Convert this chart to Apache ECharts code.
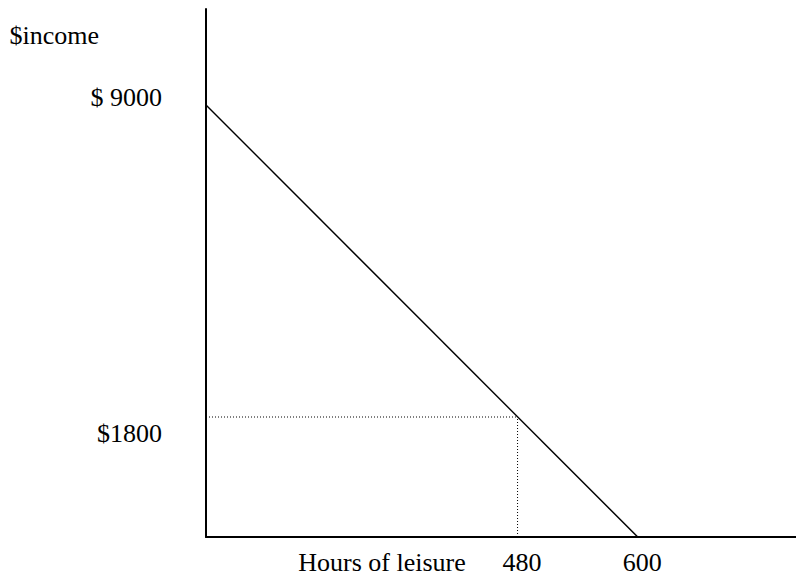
<!DOCTYPE html>
<html>
<head>
<meta charset="utf-8">
<script src="https://cdn.jsdelivr.net/npm/echarts@6/dist/echarts.min.js"></script>
<style>
  html, body { margin: 0; padding: 0; background: #fff; }
  #chart { width: 796px; height: 575px; }
</style>
</head>
<body>
<div id="chart"></div>
<script>
// Budget line: income vs hours of leisure (schematic, not to scale)
const budgetLine = [[0, 9000], [600, 0]];
// Chosen point as drawn on the schematic (labelled 480 hours, $1800)
const chosenPoint = [433, 2500];
// Tick labels and where they sit on the drawing
const xTickValues = [433, 600];
const xTickLabels = ['480', '600'];
const yTickValues = [2500, 9000];
const yTickLabels = ['$1800', '$ 9000'];
const xAxisName = 'Hours of leisure';
const yAxisName = '$income';

const FONT = "'Liberation Serif', 'Times New Roman', serif";

const chart = echarts.init(document.getElementById('chart'), null, { renderer: 'svg' });

const option = {
  animation: false,
  backgroundColor: '#ffffff',
  grid: { left: 206, right: 0, top: 9, bottom: 38, containLabel: false, outerBoundsMode: 'none' },
  xAxis: {
    type: 'value',
    min: 0,
    max: 820,
    name: xAxisName,
    nameLocation: 'middle',
    nameGap: 12,
    nameMoveOverlap: false,
    nameTextStyle: {
      fontFamily: FONT, fontSize: 26, color: '#000', lineHeight: 26,
      align: 'center', verticalAlign: 'top', padding: [0, 238, 0, 0]
    },
    axisLine: { show: true, onZero: false, lineStyle: { color: '#000', width: 2 } },
    axisTick: { show: false },
    splitLine: { show: false },
    axisLabel: {
      customValues: xTickValues,
      margin: 12,
      fontFamily: FONT, fontSize: 26, color: '#000',
      formatter: function (v) {
        const i = xTickValues.indexOf(v);
        return '{t|' + (i >= 0 ? xTickLabels[i] : '') + '}';
      },
      rich: { t: { fontFamily: FONT, fontSize: 26, lineHeight: 26, color: '#000', padding: [0, 0, 0, 9] } }
    }
  },
  yAxis: {
    type: 'value',
    min: 0,
    max: 11000,
    name: yAxisName,
    nameLocation: 'end',
    nameGap: -26,
    nameTextStyle: {
      fontFamily: FONT, fontSize: 26, color: '#000',
      align: 'right', verticalAlign: 'middle', padding: [0, 107, 0, 0]
    },
    axisLine: { show: true, onZero: false, lineStyle: { color: '#000', width: 2 } },
    axisTick: { show: false },
    splitLine: { show: false },
    axisLabel: {
      customValues: yTickValues,
      margin: 44,
      fontFamily: FONT, fontSize: 26, color: '#000',
      formatter: function (v) {
        const i = yTickValues.indexOf(v);
        if (i < 0) return '';
        return (v === 9000 ? '{up|' : '{down|') + yTickLabels[i] + '}';
      },
      rich: {
        up: { fontFamily: FONT, fontSize: 26, color: '#000', padding: [0, 0, 16, 0] },
        down: { fontFamily: FONT, fontSize: 26, color: '#000', padding: [32, 0, 0, 0] }
      }
    }
  },
  series: [
    {
      type: 'line',
      data: budgetLine,
      symbol: 'none',
      lineStyle: { color: '#000', width: 1.5 },
      z: 3
    },
    {
      type: 'line',
      data: [[0, chosenPoint[1]], chosenPoint],
      symbol: 'none',
      lineStyle: { color: '#000', width: 1, type: [1, 2] },
      z: 2
    },
    {
      type: 'line',
      data: [[chosenPoint[0], 0], chosenPoint],
      symbol: 'none',
      lineStyle: { color: '#000', width: 1, type: [1, 2] },
      z: 2
    }
  ]
};

chart.setOption(option);
</script>
</body>
</html>
